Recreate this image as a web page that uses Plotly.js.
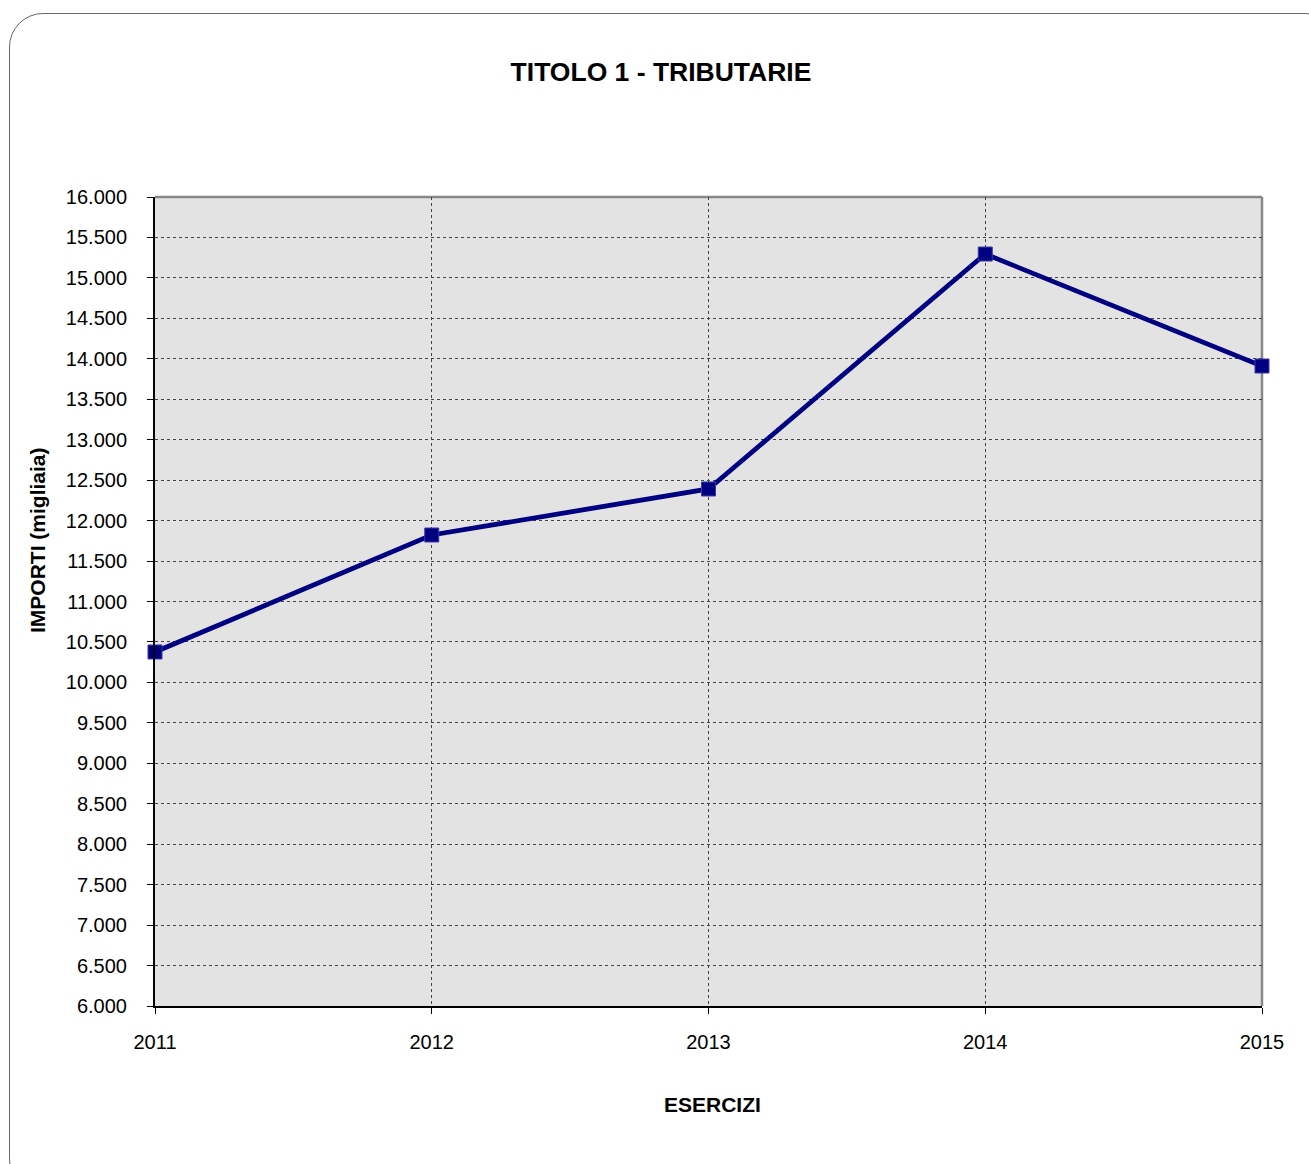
<!DOCTYPE html>
<html><head><meta charset="utf-8">
<script src="https://cdn.plot.ly/plotly-3.0.1.min.js"></script>
<style>
html,body{margin:0;padding:0;background:#fff;overflow:hidden;}
#wrap{position:relative;width:1309px;height:1164px;}
#chart{position:absolute;left:0;top:0;width:1309px;height:1164px;}
#frame{position:absolute;left:9px;top:13px;width:1330px;height:1180px;border:1.5px solid #666;border-radius:34px;pointer-events:none;box-sizing:border-box;}
</style></head>
<body><div id="wrap"><div id="chart"></div><div id="frame"></div></div>
<script>
const years = [2011, 2012, 2013, 2014, 2015];
const importi = [10376, 11822, 12391, 15295, 13911];
const titleText = "TITOLO 1 - TRIBUTARIE";
const yTitle = "IMPORTI (migliaia)";
const xTitle = "ESERCIZI";
const font = "Liberation Sans, Arial, sans-serif";

const trace = {
  x: years, y: importi, type: 'scatter', mode: 'lines+markers',
  line: {color: '#000080', width: 4.8},
  marker: {symbol: 'square', size: 14, color: '#000080', line: {color: '#3a3aa8', width: 1}},
  cliponaxis: false, hoverinfo: 'skip'
};

const layout = {
  width: 1309, height: 1164,
  margin: {l: 155, r: 47, t: 197, b: 158},
  paper_bgcolor: 'rgba(0,0,0,0)', plot_bgcolor: '#e3e3e3',
  separators: ',.',
  showlegend: false,
  font: {family: font, color: '#000', size: 20},
  title: {text: '<b>' + titleText + '</b>', font: {family: font, size: 26.5, color: '#000'},
          x: 661/1309, xref: 'container', xanchor: 'center', y: 1 - 72/1164, yref: 'container', yanchor: 'middle'},
  xaxis: {range: [2011, 2015], tickvals: years, ticktext: years.map(String),
          showgrid: true, gridcolor: '#444', griddash: 'dot', gridwidth: 1,
          showline: true, linecolor: '#000', linewidth: 2,
          ticks: 'outside', ticklen: 6, tickcolor: '#000', tickwidth: 1,
          ticklabelstandoff: 11, zeroline: false, tickfont: {size: 20, family: font}},
  yaxis: {range: [6000, 16000], dtick: 500, tick0: 6000, tickformat: ',d',
          showgrid: true, gridcolor: '#444', griddash: 'dot', gridwidth: 1,
          showline: true, linecolor: '#000', linewidth: 2,
          ticks: 'outside', ticklen: 6, tickcolor: '#000', tickwidth: 1,
          ticklabelstandoff: 16, zeroline: false, tickfont: {size: 20, family: font}},
  shapes: [
    {type: 'line', layer: 'between', xref: 'paper', yref: 'paper', x0: 0, x1: 1, y0: 1, y1: 1, line: {color: '#888', width: 2.5}},
    {type: 'line', layer: 'between', xref: 'paper', yref: 'paper', x0: 1, x1: 1, y0: 0, y1: 1, line: {color: '#888', width: 2.5}}
  ],
  annotations: [
    {text: '<b>' + yTitle + '</b>', xref: 'paper', yref: 'paper', x: (37-155)/1107, y: (1006-540)/809,
     xanchor: 'center', yanchor: 'middle', textangle: -90, showarrow: false, font: {size: 21, family: font, color: '#000'}},
    {text: '<b>' + xTitle + '</b>', xref: 'paper', yref: 'paper', x: (712-155)/1107, y: (1006-1104)/809,
     xanchor: 'center', yanchor: 'middle', showarrow: false, font: {size: 21, family: font, color: '#000'}}
  ]
};
Plotly.newPlot('chart', [trace], layout, {displayModeBar: false, staticPlot: true});
</script></body></html>
